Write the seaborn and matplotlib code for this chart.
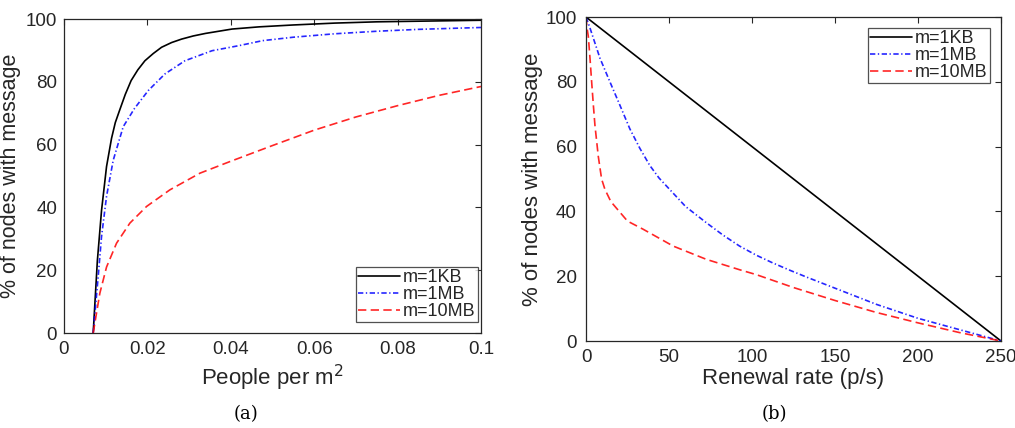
import numpy as np
import pandas as pd
import matplotlib
matplotlib.use("Agg")
import matplotlib.pyplot as plt
import seaborn as sns

# ---- data (a): people per m^2 ----
a_x_1kb = [0.007, 0.008, 0.009, 0.0102, 0.0114, 0.0123, 0.0133, 0.0147, 0.0161, 0.0177, 0.0194,
           0.0214, 0.0234, 0.0258, 0.0282, 0.031, 0.0339, 0.0403, 0.0468, 0.055, 0.065,
           0.075, 0.085, 0.1]
a_1kb = [0, 23, 39, 53, 62, 67, 70.8, 76, 80.4, 83.8, 86.7, 89, 91, 92.5, 93.6, 94.6, 95.4,
         96.8, 97.5, 98.1, 98.7, 99.1, 99.3, 99.6]
a_x_1mb = [0.007, 0.0082, 0.009, 0.0102, 0.0118, 0.0142, 0.0169, 0.0202, 0.0242, 0.029,
           0.0355, 0.0419, 0.0476, 0.055, 0.065, 0.075, 0.085, 0.1]
a_1mb = [0, 18, 30.7, 43.5, 55, 65.7, 71.5, 77.2, 82.5, 86.7, 89.9, 91.5, 93.1, 94.2, 95.3,
         96.1, 96.7, 97.3]
a_x_10mb = [0.007, 0.0086, 0.0102, 0.0126, 0.0158, 0.0198, 0.0254, 0.0326, 0.04, 0.05, 0.06,
            0.07, 0.08, 0.09, 0.1]
a_10mb = [0, 12.7, 21, 28.6, 35, 40.3, 45.6, 50.9, 54.7, 59.7, 64.6, 68.8, 72.4, 75.7, 78.5]

# ---- data (b): renewal rate (p/s) ----
b_x_1kb = [0, 250]
b_1kb = [100, 0]
b_x_1mb = [0, 2.4, 8.4, 14.4, 20.4, 26.4, 32.4, 38.4, 44, 50, 60, 72.5, 82.5, 92.5, 102.5,
           112.5, 122.5, 132.5, 150, 175, 200, 225, 250]
b_1mb = [100, 96.6, 87.3, 80, 72.8, 65.5, 59.5, 54.2, 50.3, 47, 41.5, 36.5, 32.7, 29.3, 26.5,
         24.1, 21.9, 19.8, 16.3, 11.3, 7, 3.5, 0]
b_x_10mb = [0, 0.5, 1.4, 2.4, 3.4, 4.4, 5.4, 7.4, 9.4, 11.4, 15, 20, 25, 34.4, 52.5, 72.5,
            92.5, 102.5, 125, 150, 175, 200, 225, 250]
b_10mb = [100, 97, 94, 87.3, 80, 73, 66.5, 57, 50, 46.8, 43, 40, 37, 34.5, 29.3, 25.2,
          22, 20.5, 16.5, 12.5, 8.8, 5.6, 2.6, 0]

labels = ["m=1KB", "m=1MB", "m=10MB"]
colors = ["black", "blue", "red"]
styles = ["-", (0, (3.2, 1.5, 0.8, 1.5)), (0, (5, 2.6))]

sns.set_style("white")
plt.rcParams["font.family"] = ["Liberation Sans", "DejaVu Sans"]
TXT = "#262626"
plt.rcParams["text.color"] = TXT
plt.rcParams["axes.labelcolor"] = TXT
plt.rcParams["xtick.color"] = TXT
plt.rcParams["ytick.color"] = TXT

fig = plt.figure(figsize=(10.15, 4.28), dpi=100)
ax1 = fig.add_axes([64/1015, (428-333)/428, 417/1015, 314/428])
ax2 = fig.add_axes([586/1015, (428-341)/428, 415/1015, 324/428])

panels = [
    (ax1, [(a_x_1kb, a_1kb), (a_x_1mb, a_1mb), (a_x_10mb, a_10mb)]),
    (ax2, [(b_x_1kb, b_1kb), (b_x_1mb, b_1mb), (b_x_10mb, b_10mb)]),
]
for ax, series in panels:
    for (x, y), lab, c, ls in zip(series, labels, colors, styles):
        df = pd.DataFrame({"x": x, "y": y})
        sns.lineplot(data=df, x="x", y="y", ax=ax, color=c, linestyle=ls, linewidth=1.2,
                     label=lab, alpha=0.85 if c != "black" else 1.0)
    ax.set_ylim(0, 100)
    ax.set_yticks([0, 20, 40, 60, 80, 100])
    for s in ax.spines.values():
        s.set_color(TXT)
        s.set_linewidth(0.9)
    ax.tick_params(direction="in", top=True, right=True, length=4, width=0.8,
                   labelsize=13.5)
    ax.tick_params(axis="x", pad=6)

ax1.set_ylabel("% of nodes with message", fontsize=15.5)
ax2.set_ylabel("% of nodes with message", fontsize=16)
ax1.tick_params(axis="y", pad=5)
ax2.tick_params(axis="y", pad=6.5)
ax1.yaxis.set_label_coords((21 - 64) / 417, 0.5)
ax2.yaxis.set_label_coords((543 - 586) / 415, 0.5)

ax1.set_xlim(0, 0.1)
ax1.set_xticks([0, 0.02, 0.04, 0.06, 0.08, 0.1])
ax1.set_xticklabels(["0", "0.02", "0.04", "0.06", "0.08", "0.1"])
ax1.set_xlabel("People per m$^2$", fontsize=16, labelpad=3)

ax2.set_xlim(0, 250)
ax2.set_xticks([0, 50, 100, 150, 200, 250])
ax2.set_xlabel("Renewal rate (p/s)", fontsize=16, labelpad=1)

leg_kw = dict(fontsize=13, frameon=True, fancybox=False, edgecolor=TXT,
              handlelength=2.3, handletextpad=0.2, borderpad=0.12, labelspacing=0.0,
              borderaxespad=0.0)
l1 = ax1.legend(loc="lower right", bbox_to_anchor=(478/1015, (428-322)/428),
                bbox_transform=fig.transFigure, **leg_kw)
l2 = ax2.legend(loc="upper right", bbox_to_anchor=(990/1015, (428-28)/428),
                bbox_transform=fig.transFigure, **leg_kw)
for l in (l1, l2):
    l.get_frame().set_linewidth(0.9)

fig.text(246/1015, 1 - 414/428, "(a)", family=["DejaVu Serif"], fontsize=13,
         ha="center", va="center", color="black")
fig.text(774/1015, 1 - 414/428, "(b)", family=["DejaVu Serif"], fontsize=13,
         ha="center", va="center", color="black")

fig.savefig("out.png", dpi=100)
